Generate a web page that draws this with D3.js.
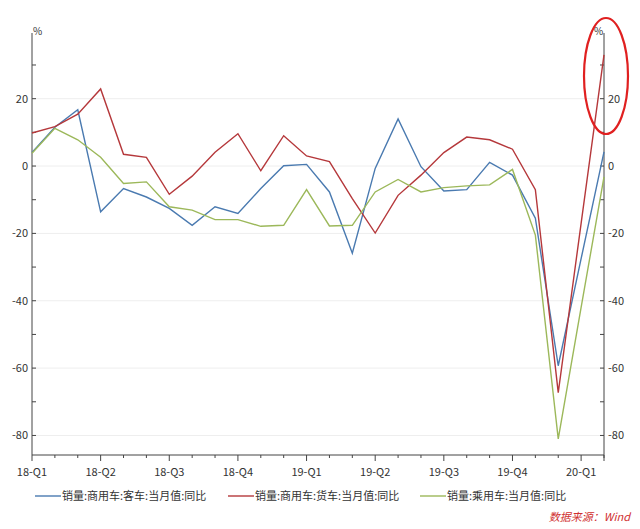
<!DOCTYPE html>
<html>
<head>
<meta charset="utf-8">
<script src="https://d3js.org/d3.v7.min.js"></script>
<style>
  body { margin: 0; background: #fff; }
  text { font-family: "Noto Sans CJK SC", "Open Sans", sans-serif; }
</style>
</head>
<body>
<svg id="chart" width="640" height="529"></svg>
<script>
const quarterLabels = ['18-Q1', '18-Q2', '18-Q3', '18-Q4', '19-Q1', '19-Q2', '19-Q3', '19-Q4', '20-Q1'];
const seriesNames = ['销量:商用车:客车:当月值:同比', '销量:商用车:货车:当月值:同比', '销量:乘用车:当月值:同比'];
const bus = [4, 11.5, 16.7, -13.6, -6.7, -9.2, -12.6, -17.6, -12.1, -14.1, -6.7, 0.1, 0.5, -7.7, -25.9, -0.7, 14, -0.2, -7.4, -7, 1.1, -2.7, -15.5, -59.3, -27.5, 4.2];
const truck = [9.8, 11.7, 15.4, 22.9, 3.5, 2.6, -8.4, -3, 4.1, 9.6, -1.4, 9, 3, 1.3, -9.7, -19.9, -8.7, -2.7, 4, 8.6, 7.8, 5, -7, -67.3, -17, 33];
const car = [3.8, 11.2, 7.8, 2.6, -5.2, -4.7, -12.1, -13.1, -15.9, -15.9, -17.9, -17.6, -7, -17.8, -17.6, -7.7, -4, -7.7, -6.4, -5.9, -5.6, -1, -20.5, -81, -42, -3.2];
const colors = ['#4a7ab0', '#b5383b', '#9cb85a'];
const yTicks = [-80, -60, -40, -20, 0, 20];

const svg = d3.select('#chart');
const pLeft = 32, pRight = 604, pTop = 33, pBottom = 455;

const x = d3.scaleLinear().domain([0, 25]).range([pLeft, pRight]);
const y = d3.scaleLinear().domain([-85.8, 39.5]).range([pBottom, pTop]);

// grid lines
svg.append('g').selectAll('line')
    .data(yTicks)
    .enter().append('line')
    .attr('x1', pLeft).attr('x2', pRight)
    .attr('y1', d => y(d)).attr('y2', d => y(d))
    .attr('stroke', '#eeeeee');

// left axis
const minor = d3.range(-80, 40, 10);
const gl = svg.append('g').attr('transform', `translate(${pLeft},0)`);
gl.append('line').attr('y1', pTop).attr('y2', pBottom).attr('stroke', '#444');
gl.selectAll('.t').data(minor).enter().append('line')
    .attr('x1', 0).attr('x2', 4).attr('y1', d => y(d)).attr('y2', d => y(d)).attr('stroke', '#444');
gl.selectAll('text').data(yTicks).enter().append('text')
    .attr('x', -4).attr('y', d => y(d)).attr('dy', '0.35em')
    .attr('text-anchor', 'end').attr('font-size', 11).attr('fill', '#333')
    .text(d => d);
gl.append('text').attr('x', 1).attr('y', pTop + 2).attr('font-size', 10).attr('fill', '#333').text('%');

// right axis
const gr = svg.append('g').attr('transform', `translate(${pRight},0)`);
gr.append('line').attr('y1', pTop).attr('y2', pBottom).attr('stroke', '#444');
gr.selectAll('.t').data(minor).enter().append('line')
    .attr('x1', 0).attr('x2', -4).attr('y1', d => y(d)).attr('y2', d => y(d)).attr('stroke', '#444');
gr.selectAll('text').data(yTicks).enter().append('text')
    .attr('x', 4).attr('y', d => y(d)).attr('dy', '0.35em')
    .attr('font-size', 11).attr('fill', '#333')
    .text(d => d);
gr.append('text').attr('x', -10).attr('y', pTop + 2).attr('font-size', 10).attr('fill', '#333').text('%');

// bottom axis
const gb = svg.append('g').attr('transform', `translate(0,${pBottom})`);
gb.append('line').attr('x1', pLeft).attr('x2', pRight).attr('stroke', '#444');
gb.selectAll('.m').data(d3.range(0, 26)).enter().append('line')
    .attr('x1', d => x(d)).attr('x2', d => x(d)).attr('y1', 0).attr('y2', d => d % 3 === 0 ? 6 : 3)
    .attr('stroke', '#444');
gb.append('line').attr('x1', pRight).attr('x2', pRight).attr('y1', 0).attr('y2', 6).attr('stroke', '#444');
gb.selectAll('text').data(quarterLabels).enter().append('text')
    .attr('x', (d, i) => x(i * 3)).attr('y', 21)
    .attr('text-anchor', 'middle').attr('font-size', 11).attr('fill', '#333')
    .text(d => d);

// lines
const line = d3.line().x((d, i) => x(i)).y(d => y(d));
[bus, truck, car].forEach((s, i) => {
    svg.append('path').datum(s)
        .attr('d', line).attr('fill', 'none')
        .attr('stroke', colors[i]).attr('stroke-width', 1.4);
});

// highlight ellipse
svg.append('ellipse')
    .attr('cx', 606).attr('cy', 76).attr('rx', 22).attr('ry', 58)
    .attr('fill', 'none').attr('stroke', '#e02020').attr('stroke-width', 2.2);

// legend
const legendX = [35, 228, 420];
const lg = svg.append('g').attr('transform', 'translate(0,496)');
seriesNames.forEach((n, i) => {
    lg.append('line').attr('x1', legendX[i]).attr('x2', legendX[i] + 26)
        .attr('stroke', colors[i]).attr('stroke-width', 1.4);
    lg.append('text').attr('x', legendX[i] + 27).attr('dy', '0.35em')
        .attr('font-size', 11).attr('fill', '#333').text(n);
});

svg.append('text').attr('x', 630).attr('y', 521).attr('text-anchor', 'end')
    .attr('font-size', 11).attr('font-style', 'italic').attr('fill', '#d03030')
    .text('数据来源：Wind');
</script>
</body>
</html>
